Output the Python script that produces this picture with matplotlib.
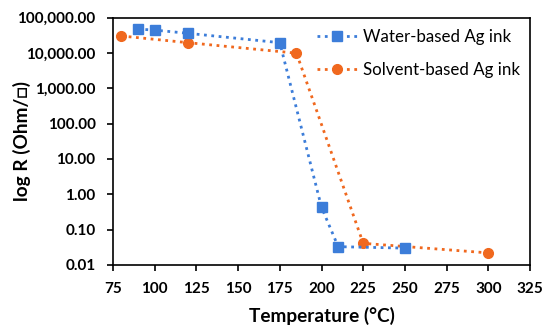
import matplotlib
matplotlib.use("Agg")
import matplotlib.pyplot as plt
from matplotlib.ticker import FuncFormatter, FixedLocator, NullLocator

BLUE = "#3C7DD9"
ORANGE = "#F0681E"
plt.rcParams["font.family"] = ["Lato", "DejaVu Sans"]

# ---- data -----------------------------------------------------------------
water_T = [90, 100, 120, 175, 200, 210, 250]
water_R = [47000, 44000, 35700, 19400, 0.43, 0.033, 0.030]

solvent_T = [80, 120, 185, 225, 300]
solvent_R = [30000, 19400, 9800, 0.041, 0.022]

xticks = list(range(75, 326, 25))
yticks = [0.01, 0.1, 1, 10, 100, 1000, 10000, 100000]

fig = plt.figure(figsize=(5.45, 3.27), dpi=100)
ax = fig.add_axes([113 / 545, 1 - 265 / 327, (530 - 113) / 545, (265 - 17.5) / 327])

ax.plot(solvent_T, solvent_R, ":", color=ORANGE, lw=2, marker="o", ms=7,
        label="Solvent-based Ag ink")
ax.plot(water_T, water_R, ":", color=BLUE, lw=2, marker="s", ms=7,
        label="Water-based Ag ink")

ax.set_yscale("log")
ax.set_ylim(0.01, 100000)
ax.set_xlim(75, 325)
ax.xaxis.set_major_locator(FixedLocator(xticks))
ax.yaxis.set_major_locator(FixedLocator(yticks))
ax.yaxis.set_minor_locator(NullLocator())
ax.yaxis.set_major_formatter(FuncFormatter(lambda v, p: "{:,.2f}".format(v)))
ax.tick_params(axis="both", direction="out", length=4.5, width=1.2, labelsize=11)
ax.tick_params(axis="x", pad=8)
ax.tick_params(axis="y", pad=8)
for lab in ax.get_xticklabels() + ax.get_yticklabels():
    lab.set_fontweight("bold")
for s in ax.spines.values():
    s.set_linewidth(1.2)

ax.set_xlabel("Temperature (°C)", fontsize=13.7, fontweight="bold", va="center")
ax.xaxis.set_label_coords(0.5, -0.206)
ax.set_ylabel("log R (Ohm/\u25a1)", fontsize=13.7, fontweight="bold", va="center")
ax.yaxis.set_label_coords(-0.218, 0.5)

h, l = ax.get_legend_handles_labels()
ax.legend(h[::-1], l[::-1], loc="upper left", frameon=False, fontsize=12.2,
          handlelength=2.35, handletextpad=0.35, labelspacing=1.0,
          borderpad=0, borderaxespad=0, bbox_to_anchor=(0.49, 0.955))

fig.savefig("out.png", dpi=100)
